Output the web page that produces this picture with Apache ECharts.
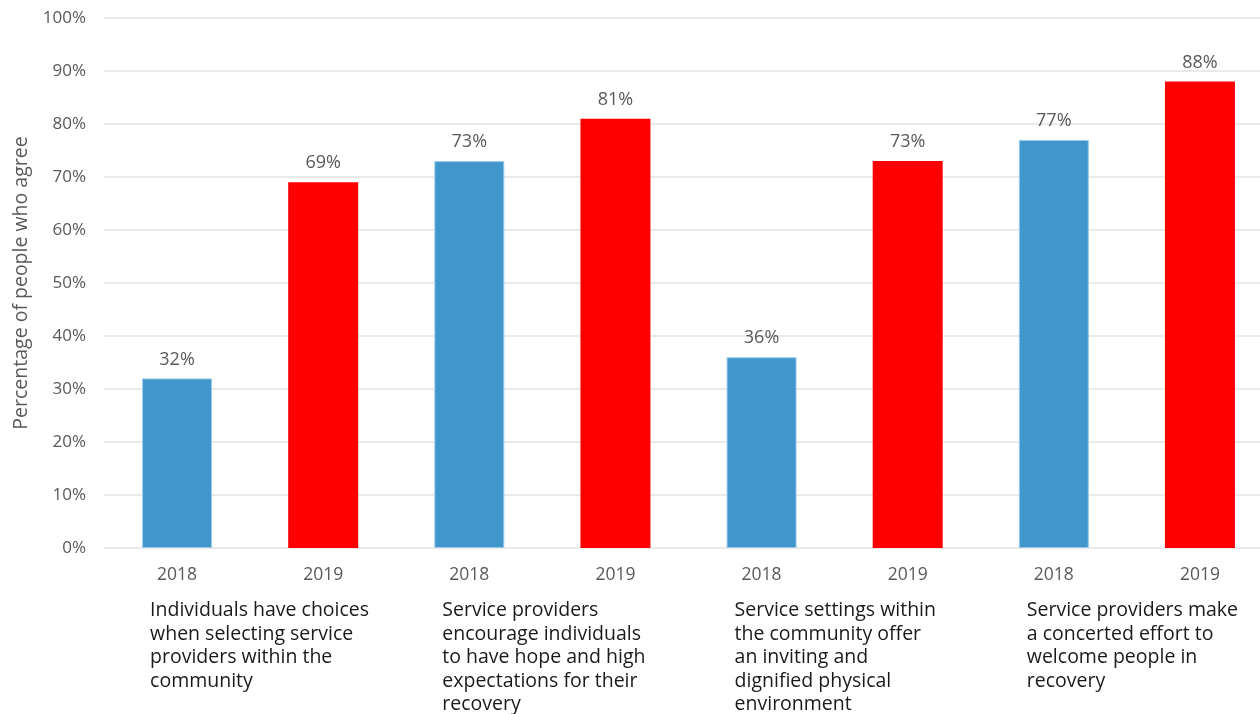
<!DOCTYPE html>
<html>
<head>
<meta charset="utf-8">
<script src="https://cdn.jsdelivr.net/npm/echarts@6/dist/echarts.min.js"></script>
<style>
  html, body { margin: 0; padding: 0; background: #ffffff; }
  #chart { width: 1260px; height: 714px; }
</style>
</head>
<body>
<div id="chart"></div>
<script>
// Survey items, one pair of bars (2018, 2019) per item
var groups = [
  'Individuals have choices\nwhen selecting service\nproviders within the\ncommunity',
  'Service providers\nencourage individuals\nto have hope and high\nexpectations for their\nrecovery',
  'Service settings within\nthe community offer\nan inviting and\ndignified physical\nenvironment',
  'Service providers make\na concerted effort to\nwelcome people in\nrecovery'
];
var years = ['2018', '2019'];
var values2018 = [32, 73, 36, 77];
var values2019 = [69, 81, 73, 88];
var yTicks = [0, 10, 20, 30, 40, 50, 60, 70, 80, 90, 100];

var BLUE = '#4196cc';
var RED = '#ff0000';
var FONT = '"Open Sans", "Noto Sans", sans-serif';

// Flatten into 8 categories: 2018, 2019, 2018, 2019, ...
var categories = [];
var barData = [];
for (var i = 0; i < groups.length; i++) {
  categories.push(years[0]);
  barData.push({
    value: values2018[i],
    itemStyle: { color: BLUE, borderColor: '#9ccbea', borderWidth: 1 }
  });
  categories.push(years[1]);
  barData.push({ value: values2019[i], itemStyle: { color: RED } });
}

var chart = echarts.init(document.getElementById('chart'));
chart.setOption({
  backgroundColor: '#ffffff',
  animation: false,
  grid: { left: 104, top: 18, width: 1169, bottom: 166, outerBoundsMode: 'none', containLabel: false },
  xAxis: {
    type: 'category',
    data: categories,
    axisLine: { show: false },
    axisTick: { show: false },
    axisLabel: { color: '#595959', fontSize: 17.5, fontFamily: FONT, margin: 18 }
  },
  yAxis: {
    type: 'value',
    min: yTicks[0],
    max: yTicks[yTicks.length - 1],
    interval: yTicks[1] - yTicks[0],
    name: 'Percentage of people who agree',
    nameLocation: 'middle',
    nameGap: 71,
    nameTextStyle: { color: '#595959', fontSize: 19.5, fontFamily: FONT },
    axisLine: { show: false },
    axisTick: { show: false },
    axisLabel: { color: '#595959', fontSize: 17, fontFamily: FONT, margin: 18, formatter: '{value}%' },
    splitLine: { lineStyle: { color: '#e3e3e3', width: 1.5 } }
  },
  series: [{
    type: 'bar',
    barWidth: 70,
    data: barData,
    label: {
      show: true,
      position: 'top',
      distance: 10,
      color: '#595959',
      fontSize: 18,
      fontFamily: FONT,
      formatter: '{c}%'
    }
  }]
});

// Item descriptions under each pair, left-aligned near the 2018 bar
var texts = [];
for (var g = 0; g < groups.length; g++) {
  var p = chart.convertToPixel({ xAxisIndex: 0 }, 2 * g);
  texts.push({
    type: 'text',
    left: p - 27,
    top: 599,
    style: {
      text: groups[g],
      fill: '#1a1a1a',
      font: '19.5px ' + FONT,
      lineHeight: 23.5
    }
  });
}
chart.setOption({ graphic: texts });
</script>
</body>
</html>
